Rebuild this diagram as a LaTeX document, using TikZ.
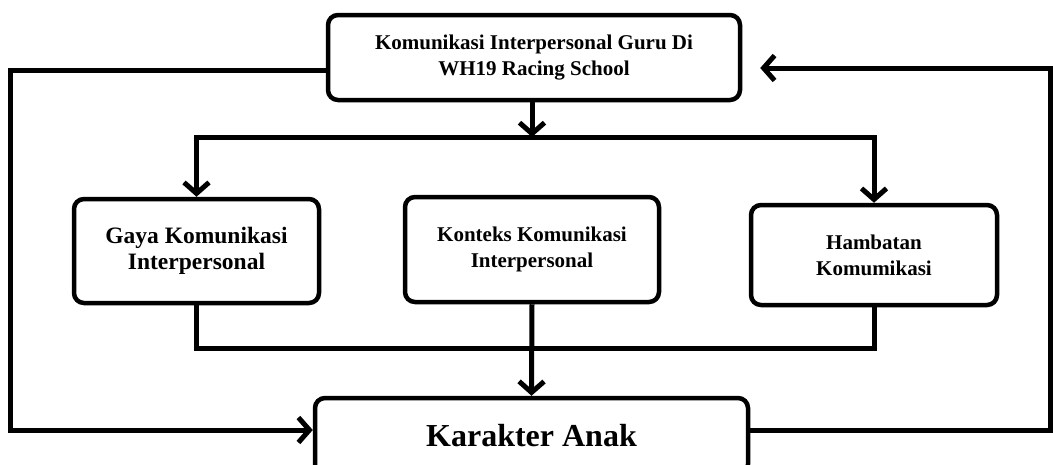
\documentclass[tikz,border=0pt]{standalone}
\usepackage{fontspec}
\setmainfont{Liberation Serif}
\usetikzlibrary{arrows.meta,calc,positioning}
\tikzset{
  kotak/.style={
    rounded corners=10pt,
    draw=black,
    line width=4.5pt,
    fill=white,
    align=center,
    inner sep=4pt,
    font=\bfseries\fontsize{21}{26}\selectfont
  },
  garis/.style={
    line width=5pt,
    black
  },
  panah/.style={
    garis,
    -{Straight Barb[length=11pt,width=25pt]}
  }
}

\begin{document}
\begin{tikzpicture}[x=1pt,y=-1pt]
\clip (0,0) rectangle (1053,464);
\fill[white] (0,0) rectangle (1053,464);
\node[kotak,minimum width=412pt,minimum height=85pt] (top) at (534,57.5) {Komunikasi Interpersonal Guru Di\\WH19 Racing School};
\node[kotak,minimum width=245pt,minimum height=104pt,font=\bfseries\fontsize{23.5}{26}\selectfont] (gaya) at (196.5,251) {Gaya Komunikasi\\Interpersonal};
\node[kotak,minimum width=254pt,minimum height=105pt] (konteks) at (532,249.5) {Konteks Komunikasi\\Interpersonal};
\node[kotak,minimum width=246pt,minimum height=100pt] (hamb) at (874,255) {Hambatan\\Komumikasi};
\node[kotak,minimum width=433pt,minimum height=76pt,font=\bfseries\fontsize{32}{38}\selectfont] (anak) at (531.5,436) {Karakter Anak};
\coordinate (bagi) at (532,137);
\coordinate (gabung) at (532,348);
\draw[panah] (top.south -| bagi) -- (bagi);
\draw[panah] (bagi) -| (gaya.north);
\draw[panah] (bagi) -| (hamb.north);
\draw[garis] (gaya.south) |- (gabung);
\draw[garis] (hamb.south) |- (gabung);
\draw[panah] (konteks.south) -- (anak.north);
\draw[panah] ([yshift=-12.5pt]top.west) -- ++(-315,0) |- ([yshift=6pt]anak.west);
\draw[panah,shorten >=18pt] ([yshift=6pt]anak.east) -- ++(300,0) |- ([yshift=-10.5pt]top.east);
\end{tikzpicture}
\end{document}
